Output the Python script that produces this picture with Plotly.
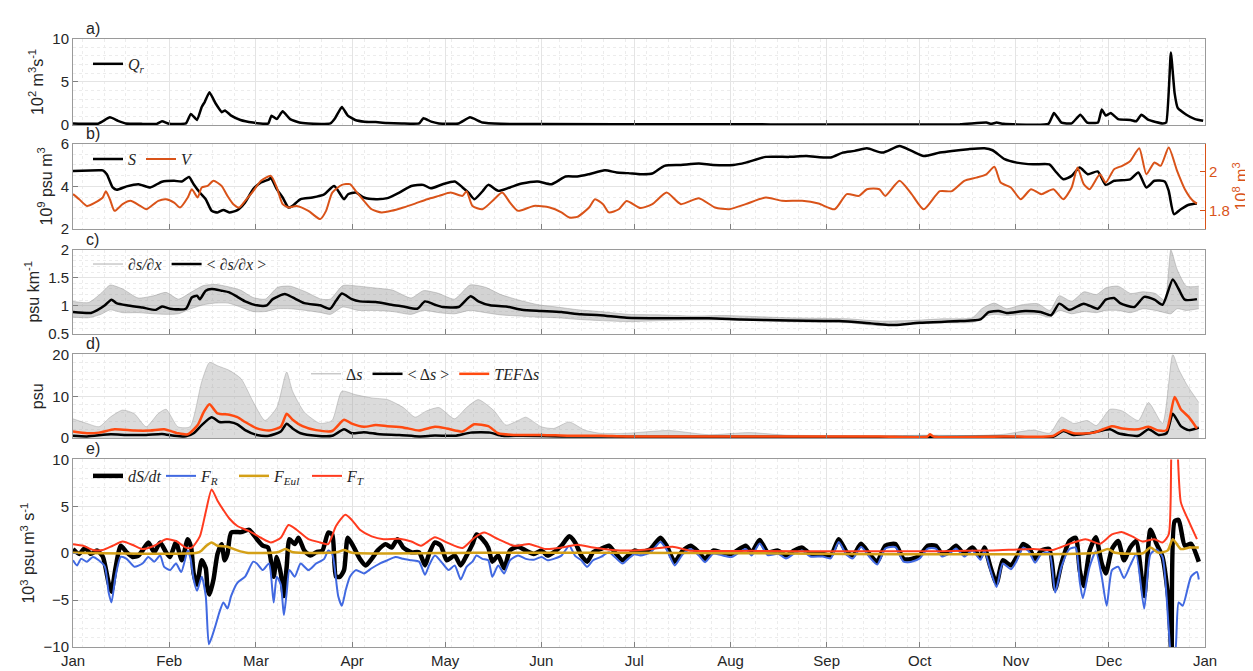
import pandas as pd
import plotly.graph_objects as go

# ---- data: (day of year, value) ----
YEAR_START = pd.Timestamp("2021-01-01")
X_RANGE = ["2021-01-01", "2022-01-01"]

# a) river discharge, 10^2 m3/s
QR = [(0, 0.2), (8.3, 0.2), (11.9, 0.9), (14.5, 0.5), (17, 0.2), (22, 0.15), (27, 0.15), (28.7, 0.45),
      (31, 0.15), (36.4, 0.2), (38, 1.3), (40, 0.6), (41.5, 2.1), (42.5, 2.7), (44, 3.8), (46, 2.5),
      (48, 1.5), (49, 1.7), (51, 1.1), (54, 0.6), (58, 0.3), (62, 0.15), (63, 0.2), (64, 1.1),
      (65.7, 0.7), (67.6, 1.6), (70, 0.7), (73, 0.3), (76, 0.2), (83, 0.2), (84.5, 0.8), (86.7, 2.1),
      (88.6, 1.1), (91, 0.6), (94, 0.4), (97.6, 0.35), (101, 0.25), (106, 0.2), (111.6, 0.2),
      (113, 0.8), (115.5, 0.4), (118, 0.2), (124.3, 0.2), (128, 0.9), (132, 0.3), (138, 0.15),
      (150, 0.12), (200, 0.1), (250, 0.08), (286, 0.1), (294.5, 0.3), (296, 0.15), (297.8, 0.3),
      (300, 0.15), (314.5, 0.15), (316.3, 1.4), (318.7, 0.3), (322, 0.2), (324.8, 1.2), (327, 0.3),
      (330.5, 0.3), (331.7, 1.8), (333, 1.1), (334.6, 1.4), (337, 0.7), (341, 0.6), (342.8, 0.45),
      (344.5, 1.2), (346.8, 0.6), (351.3, 0.2), (352.5, 0.3), (354, 8.4), (355.2, 3.7), (356.2, 2.0),
      (359, 1.2), (361.8, 0.7), (364.4, 0.5)]

# b) salt content S (10^9 psu m3) and volume V (10^8 m3)
S_SALT = [(0, 4.72), (8.3, 4.75), (9.6, 4.75), (10.9, 4.57), (12.8, 3.95), (14.1, 3.84), (17.3, 4.0),
          (21.1, 4.1), (24.9, 3.95), (28.7, 4.22), (32.6, 4.26), (35.1, 4.23), (37.4, 4.44), (38.9, 4.1),
          (40.9, 3.71), (42.8, 3.4), (44.7, 2.86), (46.6, 2.78), (48.5, 2.9), (50.4, 2.78), (53, 2.89),
          (55.5, 3.25), (58.1, 3.87), (60.6, 4.18), (63.2, 4.33), (63.8, 4.4), (65.7, 3.87), (67.6, 3.48),
          (69.5, 3.01), (70.8, 3.09), (73.4, 3.4), (77.2, 3.48), (81, 3.63), (84.2, 4.02), (87.4, 3.4),
          (88.7, 3.63), (91.2, 3.71), (93.8, 3.48), (97.6, 3.4), (101.4, 3.45), (105.2, 3.71),
          (109.1, 4.02), (112.9, 4.07), (115.4, 3.91), (119.2, 4.1), (123.1, 4.23), (125.6, 3.95),
          (127.5, 3.71), (129.4, 3.4), (132, 3.76), (133.9, 4.07), (137.1, 3.79), (140.9, 3.95),
          (144.7, 4.13), (149.8, 4.23), (154.3, 4.1), (158.8, 4.46), (162.6, 4.46), (166.4, 4.57),
          (171.5, 4.75), (175.3, 4.65), (179, 4.62), (183, 4.57), (186.8, 4.6), (190.7, 4.96), (196, 5.0),
          (201.8, 5.07), (206.4, 5.0), (213, 5.0), (216.9, 5.11), (223.4, 5.38), (231, 5.38),
          (236.4, 5.42), (244.3, 5.35), (248.2, 5.58), (252, 5.66), (256, 5.78), (261, 5.58),
          (266.5, 5.89), (270.4, 5.66), (274.3, 5.42), (279.5, 5.58), (283.4, 5.66), (288.7, 5.74),
          (293.9, 5.78), (296.5, 5.69), (300.4, 5.27), (304.3, 5.11), (309.6, 5.03), (314.8, 5.03),
          (316.7, 4.72), (319.3, 4.33), (322, 4.49), (324.6, 4.88), (327.2, 4.57), (330.4, 4.7),
          (333, 4.07), (335.7, 4.26), (340.9, 4.33), (343.5, 4.65), (346.1, 3.95), (348.7, 4.26),
          (352, 4.23), (353.3, 3.79), (355, 2.7), (357.2, 2.93), (359.8, 3.14), (362.4, 3.2)]

V_VOL = [(0, 1.885), (2, 1.859), (4.5, 1.825), (7.1, 1.842), (9.6, 1.868), (10.6, 1.90), (11.9, 1.859),
         (13.4, 1.80), (16, 1.834), (18.5, 1.851), (21.7, 1.825), (23.6, 1.808), (27.5, 1.851),
         (30, 1.859), (32.6, 1.842), (34.5, 1.817), (37, 1.868), (38.3, 1.91), (40.2, 1.868),
         (41.5, 1.919), (43.4, 1.927), (45.3, 1.953), (47.9, 1.927), (49.8, 1.876), (51.7, 1.834),
         (53.6, 1.817), (55.5, 1.851), (58.1, 1.90), (60.6, 1.953), (63.8, 1.978), (65.7, 1.919),
         (67.6, 1.834), (69.5, 1.817), (72.1, 1.825), (75.9, 1.80), (79.7, 1.758), (81.6, 1.80),
         (83.6, 1.893), (86.7, 1.932), (89.3, 1.936), (91.2, 1.90), (93.8, 1.851), (96.3, 1.808),
         (99.5, 1.792), (102.7, 1.80), (106.5, 1.817), (110.3, 1.837), (114.2, 1.859), (118, 1.876),
         (121.8, 1.893), (125.6, 1.876), (126.9, 1.90), (128.8, 1.825), (132, 1.808), (135.8, 1.859),
         (138.4, 1.893), (140.9, 1.842), (143.5, 1.80), (148.6, 1.825), (153.7, 1.817), (157.5, 1.792),
         (160, 1.766), (162.6, 1.769), (166.4, 1.817), (168.3, 1.859), (170.9, 1.834), (172.8, 1.792),
         (176, 1.808), (178.5, 1.85), (183, 1.814), (186.8, 1.834), (191.4, 1.893), (196, 1.834),
         (201.8, 1.864), (207, 1.817), (211.6, 1.808), (216.9, 1.834), (223.4, 1.868), (228.6, 1.851),
         (235.1, 1.851), (240.4, 1.837), (245.6, 1.808), (249.5, 1.885), (253.4, 1.876), (256, 1.91),
         (260, 1.91), (261.9, 1.876), (266.5, 1.953), (270.4, 1.885), (274.3, 1.808), (279.5, 1.90),
         (283.4, 1.90), (287.4, 1.953), (291.3, 1.969), (294.5, 1.986), (297.1, 2.024), (299.1, 1.944),
         (302.4, 1.919), (305.6, 1.859), (308.9, 1.91), (312.2, 1.885), (316.1, 1.91), (319.3, 1.859),
         (322, 1.919), (323.9, 2.02), (325.9, 1.936), (327.8, 1.91), (331.1, 1.986), (333, 1.944),
         (335.7, 2.012), (338.3, 2.029), (340.9, 2.054), (343.8, 2.119), (346.1, 1.986), (348.7, 2.046),
         (350.7, 2.029), (353.3, 2.122), (356, 2.003), (358.5, 1.91), (361.1, 1.851), (362.4, 1.837)]

# c) salinity gradient, psu/km: tidal envelope (day, low, high) and tidal mean
DSDX_ENV = [(0, 0.80, 1.08), (5, 0.79, 1.06), (9, 0.85, 1.22), (12, 0.93, 1.37), (16, 0.88, 1.30),
            (21, 0.88, 1.14), (26, 0.86, 1.18), (30, 0.85, 1.24), (34, 0.86, 1.12), (38, 0.95, 1.24),
            (42, 1.02, 1.36), (46, 1.05, 1.38), (50, 1.05, 1.34), (54, 0.98, 1.28), (58, 0.90, 1.15),
            (62, 0.90, 1.12), (66, 0.95, 1.33), (70, 0.95, 1.35), (75, 0.92, 1.25), (80, 0.88, 1.12),
            (83, 0.85, 1.12), (87, 0.98, 1.36), (92, 0.92, 1.35), (97, 0.92, 1.32), (103, 0.90, 1.28),
            (109, 0.85, 1.14), (113, 0.92, 1.27), (118, 0.88, 1.22), (123, 0.86, 1.12), (128, 0.92, 1.37),
            (133, 0.88, 1.33), (138, 0.84, 1.20), (144, 0.82, 1.10), (150, 0.80, 1.02), (156, 0.79, 0.98),
            (163, 0.76, 0.93), (170, 0.74, 0.90), (179, 0.72, 0.85), (190, 0.74, 0.84), (200, 0.75, 0.82),
            (210, 0.75, 0.83), (220, 0.74, 0.81), (230, 0.72, 0.79), (240, 0.71, 0.78), (250, 0.70, 0.77),
            (260, 0.65, 0.73), (270, 0.67, 0.74), (280, 0.70, 0.77), (290, 0.71, 0.79), (293, 0.80, 0.95),
            (297, 0.85, 1.05), (301, 0.83, 0.95), (306, 0.85, 1.02), (311, 0.85, 1.04), (315, 0.80, 0.92),
            (318, 0.92, 1.18), (322, 0.86, 1.08), (326, 0.90, 1.25), (330, 0.88, 1.20), (333, 0.92, 1.32),
            (337, 0.92, 1.35), (341, 0.88, 1.22), (345, 0.95, 1.25), (349, 0.92, 1.22), (352, 0.88, 1.10),
            (354, 0.86, 1.99), (356, 0.95, 1.65), (359, 0.92, 1.35), (363, 0.95, 1.35)]

DSDX_MEAN = [(0, 0.89), (5.8, 0.875), (7.7, 0.92), (10.3, 1.01), (12.4, 1.11), (14, 1.05), (17.3, 1.01),
             (22.4, 0.97), (26.8, 0.93), (28.7, 0.99), (31.3, 0.95), (36.4, 0.95), (38.3, 1.15), (40, 1.18),
             (40.9, 1.12), (42.8, 1.27), (44.7, 1.30), (47.9, 1.27), (50.4, 1.24), (53, 1.16), (55.5, 1.08),
             (59.3, 1.01), (62.5, 1.01), (64.4, 1.12), (68.3, 1.21), (70.8, 1.15), (74.6, 1.05),
             (79.7, 1.01), (82.9, 0.95), (84.8, 1.09), (86.7, 1.22), (89.9, 1.12), (92.5, 1.08),
             (97.6, 1.07), (102.7, 1.02), (106.5, 0.99), (111, 0.95), (113.5, 1.08), (116.7, 1.02),
             (119.2, 0.98), (124.3, 0.98), (128.2, 1.17), (130.7, 1.08), (134.5, 1.01), (139.6, 0.99),
             (144.7, 0.93), (151, 0.91), (157.5, 0.89), (163.8, 0.85), (170, 0.835), (178.5, 0.79),
             (192, 0.78), (205, 0.78), (215.6, 0.76), (231, 0.74), (247, 0.73), (257.3, 0.69), (265, 0.66),
             (273, 0.70), (286, 0.73), (292.6, 0.76), (295.2, 0.89), (298.5, 0.91), (301, 0.875),
             (307, 0.91), (312, 0.89), (315.4, 0.835), (318, 1.04), (321.3, 0.93), (325.9, 1.04),
             (330.4, 0.95), (333, 1.11), (335.7, 1.14), (337.6, 1.05), (342.2, 0.98), (345.4, 1.16),
             (348.7, 1.11), (351.3, 1.02), (354.6, 1.47), (356.5, 1.30), (358.5, 1.11), (362.4, 1.12)]

# d) top-bottom salinity difference, psu
DS_ENV_TOP = [(0, 4.6), (4.5, 3.5), (8.4, 2.7), (12, 5.0), (16, 6.7), (19.8, 5.8), (23.6, 2.7), (27.4, 5.8),
              (30, 6.9), (33.8, 2.7), (37.7, 2.7), (41.5, 13.5), (44, 18.1), (46.6, 17.3), (50.4, 16.2),
              (54.2, 14.2), (58, 8.8), (61.9, 4.2), (65.7, 7.3), (68.9, 15.8), (70.8, 11.2), (74.6, 6.2),
              (79.7, 3.5), (83.5, 4.2), (86.7, 11.2), (91, 10.4), (96.3, 9.6), (101.4, 9.2), (106.5, 7.3),
              (110.3, 5.0), (114, 6.5), (118, 7.3), (123, 4.6), (126.9, 7.3), (130.7, 9.2), (135.8, 6.5),
              (139.6, 3.1), (143.5, 4.2), (146, 5.0), (151, 2.7), (155, 2.3), (160, 3.85), (165, 1.9),
              (170, 1.15), (178.5, 1.15), (192, 1.8), (205, 0.8), (218, 1.3), (230, 0.7), (245, 0.6),
              (260, 0.5), (275, 0.7), (290, 0.6), (300, 0.9), (309.6, 1.9), (315, 1.2), (318.7, 5.0),
              (322.6, 3.5), (327, 4.2), (330, 3.0), (334.4, 6.9), (338.3, 6.5), (343.5, 4.2), (346.8, 8.5),
              (351.3, 3.5), (354.6, 20), (356.5, 16.5), (359.2, 12.7), (363, 8.5)]

DS_MEAN = [(0, 0.55), (4.5, 0.4), (12.2, 0.9), (17.3, 0.75), (23.6, 0.75), (28.7, 1.0), (32.6, 0.55),
           (36.4, 0.4), (38.9, 1.15), (41.5, 3.1), (44.7, 5.0), (47.2, 3.85), (50.4, 3.85), (53, 3.3),
           (55.5, 1.9), (59.3, 0.75), (63.2, 0.55), (67, 1.55), (68.9, 3.45), (70.8, 2.3), (73.4, 1.15),
           (78.4, 0.55), (83.6, 0.55), (87.4, 2.1), (89.9, 1.15), (93.8, 1.4), (98.9, 0.9), (105.2, 0.75),
           (111.6, 0.4), (116.7, 0.6), (123.1, 0.55), (128.2, 1.3), (134.5, 1.3), (138.4, 0.55),
           (144.7, 0.55), (157.5, 0.4), (170.2, 0.4), (178.5, 0.3), (220, 0.3), (260, 0.25), (300, 0.3),
           (316, 0.3), (319.3, 1.7), (322.6, 0.75), (327.8, 1.15), (334.4, 2.1), (337, 1.15), (343.5, 0.55),
           (346.8, 2.1), (350, 0.75), (352.6, 1.15), (354.6, 5.8), (357.2, 2.85), (359.8, 1.9), (363, 2.5)]

DS_TEF = [(0, 1.55), (4.5, 1.15), (8.4, 1.3), (13.4, 2.1), (19.8, 1.8), (24.9, 1.8), (29.4, 2.1),
          (33.8, 1.15), (37, 0.9), (40.2, 3.1), (42.1, 6.15), (44, 8.1), (46.6, 5.9), (50.4, 5.6), (53, 5.0),
          (55.5, 3.85), (59.3, 2.3), (63.2, 1.8), (67, 2.7), (68.9, 5.8), (70.8, 4.4), (74, 2.85),
          (78.4, 1.9), (83.6, 1.7), (87.4, 4.4), (89.9, 3.45), (93.8, 2.7), (97.6, 3.1), (101.4, 2.85),
          (106.5, 2.55), (111.6, 1.8), (116.7, 2.7), (120.5, 2.3), (125.6, 1.55), (129.4, 3.3),
          (133.9, 2.85), (137.1, 1.15), (142.2, 0.75), (151.1, 0.75), (160, 0.55), (170.2, 0.55),
          (178.5, 0.4), (220, 0.35), (260, 0.35), (275.5, 0.35), (276.3, 0.9), (277.5, 0.35), (300, 0.4),
          (316, 0.5), (319.3, 1.9), (322.6, 1.15), (329.1, 1.3), (335, 2.85), (338.3, 2.3), (343.5, 2.1),
          (346.8, 2.7), (350, 1.8), (352.6, 1.9), (355.2, 9.8), (357.2, 6.9), (359.8, 5.0), (362.4, 2.3)]

# e) salt budget terms, 10^3 psu m3/s
DSDT = [(0, 0.45), (2, -0.07), (3.9, 0.55), (5.8, -0.07), (7.7, 0.28), (9.6, -0.35), (11.5, -3.2),
        (12.4, -4.1), (13.7, -1.6), (15.4, 0.8), (17.3, 0.1), (19.2, -0.4), (21.1, -0.25), (22.4, 0.28),
        (24.3, 1.15), (26.2, 0.1), (28.1, 1.15), (30, 0.1), (31.3, -0.4), (33.2, 1.15), (35.1, -0.75),
        (37, 1.5), (38.1, 0.6), (38.9, -2.15), (40, -3.35), (41.5, -0.75), (42.8, -1.6), (43.4, -3.85),
        (44, -4.4), (45.3, -2.8), (46.6, -0.07), (47.9, 0.97), (48.9, -0.75), (49.8, -0.07), (51, 2.2),
        (54.2, 2.25), (56.8, 2.5), (59.3, 1.5), (61.2, 0.8), (62.9, 0.6), (64.7, -2.5), (65.7, -0.4),
        (67, -2.15), (68, -4.55), (68.9, -1.45), (69.8, 1.5), (71.5, 0.97), (72.7, 1.65), (74.6, 0.28),
        (76.5, -0.25), (78.4, 0.1), (80.4, 0.28), (82.3, 2.2), (83.6, 2.0), (84.8, -2.5), (86.1, -2.5),
        (87.4, -1.8), (88.6, 1.65), (90.6, 0.6), (92.5, -0.6), (94.4, -1.3), (96.3, -0.6), (98.2, 0.28),
        (100.8, 0.97), (102.7, 0.6), (104.6, 1.5), (106.5, 0.6), (109.1, 0.1), (111.6, 0.1),
        (113.5, -1.3), (114.8, -0.07), (116.7, 1.15), (118.6, 0.8), (120.5, -0.75), (123.1, -0.25),
        (125, -1.3), (126.9, -0.25), (128.8, 0.97), (130.1, 2.0), (132, 1.5), (133.9, 0.6),
        (135.2, -0.9), (137.1, -0.25), (139, -1.6), (140.9, 0.28), (143.5, 0.7), (146, 0.28),
        (148.6, -0.07), (151.1, 0.28), (153, -0.25), (155, 0.1), (157.5, 0.8), (160, 1.8), (161.9, 1.15),
        (163.9, -0.25), (165.8, -0.9), (167.7, 0.1), (170.2, 0.45), (172.8, 0.8), (174.7, 0.1),
        (177.2, -0.75), (179, -0.25), (181, 0.28), (183, 0.1), (186.2, 0.45), (189.4, 1.65),
        (191.4, 0.8), (194, -0.9), (196.6, 0.28), (199.2, 0.8), (201.8, 0.1), (203.8, -0.6),
        (206.4, 0.28), (209, 0.1), (212.3, -0.07), (216.9, 0.8), (218.8, 0.1), (221.4, 1.4), (224, 0.1),
        (227.3, 0.28), (229.9, -0.25), (232.5, 0.28), (235.1, 0.6), (237.7, -0.07), (241.7, -0.07),
        (244.3, -0.25), (246.9, 1.5), (249.5, 0.1), (251.5, -0.25), (254.1, 1.0), (256.7, -0.07),
        (259.3, -0.9), (261.9, 0.8), (265.2, 0.97), (267.8, -0.6), (270.4, -0.6), (273, -0.25),
        (275.6, 0.8), (278.2, 0.8), (280.2, -0.07), (282.8, 0.28), (284.7, 0.8), (287.4, -0.07),
        (290, 0.6), (292.6, -0.4), (293.9, 0.6), (295.8, -1.45), (297.8, -3.2), (299.8, -0.75),
        (302.4, -1.3), (304.3, -0.4), (306.3, 0.97), (308.2, 0.6), (310.2, -0.6), (312.2, 0.28),
        (314.8, 0.45), (316.7, -3.85), (318.7, -1.1), (321.3, 1.3), (323.3, 1.65), (324.6, -1.8),
        (325.9, -3.5), (327.8, 0.28), (329.8, 1.7), (331.7, -1.1), (333, -2.15), (335, 0.45), (337, 1.3),
        (338.9, -0.75), (340.9, 0.6), (342.8, 1.3), (345.4, -4.55), (347.4, 2.5), (349.4, 0.97),
        (351.3, -0.4), (353.3, -5.25), (354.2, -11), (355.2, 3.4), (356.5, 3.55), (358.5, 0.8),
        (360.5, 1.0), (363, -0.9)]

F_RIVER = [(0, -0.75), (1.3, -1.3), (2.6, -0.6), (4.5, -0.9), (6.4, -0.4), (8.3, -0.75), (10.3, -1.45),
           (11.5, -4.2), (12.4, -5.25), (13.7, -2.5), (15.4, -0.4), (17.3, -0.6), (19.8, -1.45),
           (22.4, -1.1), (24.3, -0.4), (26.2, -0.9), (28.1, -0.25), (29.4, -1.45), (31.3, -1.8),
           (33.2, -1.1), (34.9, -2.0), (37, 0.28), (37.9, -0.6), (38.9, -2.8), (40, -4.0), (41.5, -2.5),
           (42.8, -4.55), (43.8, -9.7), (44.7, -9.0), (46, -7.65), (47.2, -6.3), (48.5, -5.25),
           (49.8, -5.9), (51, -4.55), (53, -3.15), (55.5, -2.5), (58.1, -0.9), (59.3, -1.1), (61.2, -1.8),
           (63.2, -1.1), (64.7, -5.25), (65.7, -2.5), (67, -3.35), (68, -6.6), (68.9, -4.2), (69.8, -1.8),
           (71.5, -2.5), (73.4, -1.1), (75.9, -1.8), (78.4, -1.1), (81, -0.6), (82.3, 0.28), (83.6, -0.07),
           (85.5, -4.55), (86.7, -5.6), (88, -3.85), (89.3, -2.5), (91.2, -1.8), (93.8, -2.15),
           (96.3, -1.6), (98.9, -1.1), (101.4, -0.75), (104, -0.4), (106.5, -0.6), (109.1, -0.75),
           (111.6, -0.9), (113.5, -2.3), (114.8, -1.3), (116.7, -0.25), (119.2, -1.1), (121.1, -1.8),
           (123.1, -1.3), (125, -2.8), (126.9, -1.45), (128.8, -0.9), (130.1, -0.25), (132, -0.6),
           (133.9, -0.75), (135.2, -2.5), (137.1, -1.3), (139, -2.15), (140.9, -0.75), (143.5, -0.25),
           (146, -0.6), (148.6, -0.7), (151.1, -0.4), (153, -0.75), (157.5, -0.25), (160, 0.8),
           (161.9, -0.28), (163.9, -0.75), (165.8, -1.45), (167.7, -0.75), (170.2, -0.4), (172.8, 0.1),
           (174.7, -0.4), (177.2, -1.1), (179, -0.6), (181, -0.1), (183, -0.25), (186.2, 0.1),
           (189.4, 1.2), (191.4, 0.4), (194, -1.3), (196.6, -0.1), (199.2, 0.45), (201.8, -0.25),
           (203.8, -0.95), (206.4, -0.05), (209, -0.2), (212.3, -0.4), (216.9, 0.45), (218.8, -0.25),
           (221.4, 1.05), (224, -0.2), (227.3, -0.05), (229.9, -0.55), (232.5, -0.05), (235.1, 0.3),
           (237.7, -0.35), (241.7, -0.35), (244.3, -0.55), (246.9, 1.2), (249.5, -0.2), (251.5, -0.55),
           (254.1, 0.7), (256.7, -0.35), (259.3, -1.2), (261.9, 0.5), (265.2, 0.65), (267.8, -0.9),
           (270.4, -0.9), (273, -0.55), (275.6, 0.5), (278.2, 0.5), (280.2, -0.35), (282.8, 0.0),
           (284.7, 0.5), (287.4, -0.35), (290, 0.3), (292.6, -0.7), (293.9, 0.3), (295.8, -1.8),
           (297.8, -3.6), (299.8, -1.1), (302.4, -1.7), (304.3, -0.8), (306.3, 0.6), (308.2, 0.2),
           (310.2, -1.0), (312.2, -0.1), (314.8, 0.05), (316.7, -4.2), (318.7, -1.45), (321.3, 0.45),
           (323.3, 0.6), (324.6, -3.0), (325.6, -4.8), (327.8, -1.45), (329.8, 0.2), (331.7, -2.5),
           (333.3, -5.6), (335, -1.8), (337, -1.45), (338.9, -2.65), (340.9, -1.3), (342.8, -0.1),
           (345.4, -5.9), (347.4, -0.1), (349.4, 0.4), (351.3, -0.4), (353.3, -8.0), (354.2, -11),
           (355.2, -11), (356.5, -5.25), (357.8, -5.6), (360.5, -2.5), (362.4, -2.0), (363, -2.8)]

F_EULER = [(0, 0.05), (40, 0.05), (41.5, 0.3), (43, 0.8), (44.7, 1.15), (46.6, 0.8), (49.8, 0.7),
           (53, 0.3), (56, 0.05), (66, 0.1), (68.5, 0.45), (71, 0.1), (85, 0.1), (87.4, 0.35), (90, 0.05),
           (130, 0.05), (200, 0.03), (330, 0.05), (333.7, 0.45), (336, 0.05), (345, 0.0), (347.4, 0.6),
           (350, 0.05), (353, 0.3), (354.6, 1.5), (357.2, 0.45), (360, 0.6), (363, 0.6)]

F_TIDE = [(0, 0.97), (3.3, 0.8), (6.4, 0.35), (9.6, 0.35), (12.8, 0.8), (16, 1.25), (19.8, 0.8),
          (22.4, 0.45), (26.2, 0.8), (30, 1.5), (33.2, 1.3), (36.4, 0.6), (38.3, 0.6), (40.9, 1.8),
          (42.8, 4.4), (44.7, 6.8), (46.6, 5.6), (48.5, 4.6), (50.4, 3.7), (53, 2.9), (56.8, 2.35),
          (60.6, 1.65), (63.8, 1.15), (67, 1.65), (69.5, 3.0), (72.1, 2.5), (75.9, 1.5), (79.7, 1.15),
          (82.3, 0.97), (84.8, 2.9), (87.8, 4.1), (89.9, 3.55), (92.5, 2.5), (96.3, 1.8), (100.1, 1.5),
          (105.2, 1.55), (109.1, 1.25), (112.2, 0.8), (116.7, 1.7), (120.5, 1.15), (125.6, 0.55),
          (129.4, 1.65), (132.6, 2.2), (137.1, 1.5), (142.2, 0.8), (147.3, 0.97), (152.4, 0.45),
          (157.5, 0.6), (162.6, 0.9), (167.7, 0.6), (174, 0.35), (178.5, 0.28), (186.8, 0.45),
          (193.4, 0.7), (198.6, 0.3), (220, 0.25), (250, 0.2), (280, 0.22), (296.5, 0.3), (309.6, 0.45),
          (316, 0.35), (321.3, 1.0), (326.5, 1.5), (331.1, 1.0), (335, 2.0), (338.3, 2.25), (341.5, 1.8),
          (344.8, 1.25), (348.7, 1.5), (351.3, 1.15), (353.3, 2.0), (354.3, 12), (355.6, 14),
          (357.2, 5.45), (359.8, 3.4), (362.4, 1.5)]

# ---- styling ----
ORANGE_V = "#D95319"
ORANGE_TEF = "#FF4A10"
RED_FT = "#FF3B1F"
BLUE_FR = "#4169E1"
GOLD_FEUL = "#D4A017"
SANS = "Liberation Sans, Arial, sans-serif"
TICK_FONT = dict(family=SANS, size=15, color="#262626")
TITLE_FONT = dict(family=SANS, size=16, color="#262626")
LEG_FONT = dict(family="Liberation Serif, Times New Roman, serif", size=16, color="#262626")
GRID_MAJOR = "#e4e4e4"
GRID_MINOR = "#ececec"

# panel domains (paper fractions), plot area spans y=10..648 px
DOMAINS = [[0.8417, 0.9812], [0.6740, 0.8119], [0.5047, 0.6411], [0.3370, 0.4718], [0.0, 0.3025]]


def to_dates(days):
    return YEAR_START + pd.to_timedelta(list(days), unit="D")


def unzip(pairs):
    d, v = zip(*pairs)
    return to_dates(d), list(v)


fig = go.Figure()


def line(pairs, color, width, name, ax, leg, smooth=0.6, yaxis=None):
    x, y = unzip(pairs)
    fig.add_trace(go.Scatter(x=x, y=y, mode="lines", name=name,
                             line=dict(color=color, width=width, shape="spline", smoothing=smooth),
                             xaxis="x" + ax, yaxis=yaxis or "y" + ax, legend=leg))


def legend_stub(color, width, name, ax, leg):
    fig.add_trace(go.Scatter(x=[None], y=[None], mode="lines", name=name,
                             line=dict(color=color, width=width),
                             xaxis="x" + ax, yaxis="y" + ax, legend=leg))


# a)
line(QR, "black", 2.5, "<i>Q<sub>r</sub></i>", "", "legend", smooth=0.4)

# b)
line(S_SALT, "black", 2.5, "<i>S</i>", "2", "legend2")
line(V_VOL, ORANGE_V, 2, "<i>V</i>", "2", "legend2", yaxis="y6")

# c)
env_d, env_lo, env_hi = zip(*DSDX_ENV)
env_x = to_dates(env_d)
fig.add_trace(go.Scatter(x=env_x, y=list(env_lo), mode="lines",
                         line=dict(color="rgba(140,140,140,0.7)", width=0.6, shape="spline", smoothing=0.6),
                         xaxis="x3", yaxis="y3", showlegend=False))
fig.add_trace(go.Scatter(x=env_x, y=list(env_hi), mode="lines",
                         line=dict(color="rgba(140,140,140,0.7)", width=0.6, shape="spline", smoothing=0.6),
                         fill="tonexty", fillcolor="rgba(150,150,150,0.42)",
                         xaxis="x3", yaxis="y3", showlegend=False))
legend_stub("rgb(175,175,175)", 1, "<i>∂s/∂x</i>", "3", "legend3")
line(DSDX_MEAN, "black", 2.5, "&lt; <i>∂s/∂x</i> &gt;", "3", "legend3")

# d)
xd, yd = unzip(DS_ENV_TOP)
fig.add_trace(go.Scatter(x=xd, y=yd, mode="lines",
                         line=dict(color="rgba(150,150,150,0.7)", width=0.6, shape="spline", smoothing=0.6),
                         fill="tozeroy", fillcolor="rgba(160,160,160,0.38)",
                         xaxis="x4", yaxis="y4", showlegend=False))
legend_stub("rgb(175,175,175)", 1, "Δ<i>s</i>", "4", "legend4")
line(DS_MEAN, "black", 2.5, "&lt; Δ<i>s</i> &gt;", "4", "legend4")
line(DS_TEF, ORANGE_TEF, 2.5, "<i>TEF</i>Δ<i>s</i>", "4", "legend4")

# e)
line(DSDT, "black", 4.5, "<i>dS/dt</i>", "5", "legend5")
line(F_RIVER, BLUE_FR, 2, "<i>F<sub>R</sub></i>", "5", "legend5")
line(F_EULER, GOLD_FEUL, 2.5, "<i>F<sub>Eul</sub></i>", "5", "legend5")
line(F_TIDE, RED_FT, 2, "<i>F<sub>T</sub></i>", "5", "legend5")

# ---- axes ----
y_specs = [
    dict(range=[0, 10], dtick=5, minor=1, title="10<sup>2</sup> m<sup>3</sup>s<sup>-1</sup>"),
    dict(range=[2, 6], dtick=2, minor=0.5, title="10<sup>9</sup> psu m<sup>3</sup>"),
    dict(range=[0.5, 2], dtick=0.5, minor=0.1, title="psu km<sup>-1</sup>"),
    dict(range=[0, 20], dtick=10, minor=2, title="psu"),
    dict(range=[-10, 10], dtick=5, minor=1, title="10<sup>3</sup> psu m<sup>3</sup> s<sup>-1</sup>"),
]

layout = dict(
    width=1253, height=671,
    margin=dict(l=65, r=56, t=10, b=23),
    paper_bgcolor="white", plot_bgcolor="white",
    showlegend=True,
    font=TICK_FONT,
)

for i, spec in enumerate(y_specs):
    n = "" if i == 0 else str(i + 1)
    layout["xaxis" + n] = dict(
        domain=[0, 1], anchor="y" + n, type="date", range=X_RANGE,
        dtick="M1", tick0="2021-01-01", tickformat="%b",
        showticklabels=(i == 4), ticks="inside", ticklen=5, tickcolor="#808080",
        showline=True, linecolor="#9a9a9a", linewidth=1, mirror=True,
        showgrid=True, gridcolor=GRID_MAJOR, gridwidth=1, zeroline=False,
        minor=dict(dtick=7 * 86400000, tick0="2021-01-04", showgrid=True, griddash="dot",
                   gridcolor=GRID_MINOR, gridwidth=1),
        tickfont=TICK_FONT,
        **({} if i == 0 else dict(matches="x")),
    )
    layout["yaxis" + n] = dict(
        domain=DOMAINS[i], anchor="x" + n, range=spec["range"], dtick=spec["dtick"],
        ticks="inside", ticklen=5, tickcolor="#808080",
        showline=True, linecolor="#9a9a9a", linewidth=1, mirror=True,
        showgrid=True, gridcolor=GRID_MAJOR, gridwidth=1, zeroline=False,
        minor=dict(dtick=spec["minor"], showgrid=True, griddash="dot", gridcolor=GRID_MINOR, gridwidth=1),
        tickfont=TICK_FONT,
        title=dict(text=spec["title"], font=TITLE_FONT, standoff=4),
    )

# right axis for V
layout["yaxis6"] = dict(
    overlaying="y2", side="right", anchor="x2", range=[1.707, 2.142],
    tickvals=[1.8, 2.0], ticktext=["1.8", "2"],
    ticks="inside", ticklen=5, tickcolor=ORANGE_V,
    showline=True, linecolor=ORANGE_V, linewidth=1, showgrid=False, zeroline=False,
    tickfont=dict(family=SANS, size=15, color=ORANGE_V),
    title=dict(text="10<sup>8</sup> m<sup>3</sup>", font=dict(family=SANS, size=16, color=ORANGE_V),
               standoff=4),
)

PLOT_W, PLOT_H = 1132.0, 638.0


def px_x(px):
    return (px - 65) / PLOT_W


def px_y(py):
    return (648 - py) / PLOT_H


legend_common = dict(orientation="h", bgcolor="rgba(0,0,0,0)", font=LEG_FONT,
                     xanchor="left", yanchor="middle", itemwidth=30, tracegroupgap=0)
layout["legend"] = dict(x=px_x(80), y=px_y(48), **legend_common)
layout["legend2"] = dict(x=px_x(80), y=px_y(146), **legend_common)
layout["legend3"] = dict(x=px_x(80), y=px_y(254), **legend_common)
layout["legend4"] = dict(x=px_x(298), y=px_y(367), **legend_common)
layout["legend5"] = dict(x=px_x(80), y=px_y(472), entrywidth=28, **legend_common)

annotations = []
for lab, dom in zip(["a)", "b)", "c)", "d)", "e)"], DOMAINS):
    annotations.append(dict(text=lab, x=px_x(76), y=dom[1], xref="paper", yref="paper",
                            xanchor="left", yanchor="bottom", showarrow=False,
                            font=dict(family=SANS, size=16, color="#262626")))
layout["annotations"] = annotations

fig.update_layout(**layout)
fig.write_html("out.html")
